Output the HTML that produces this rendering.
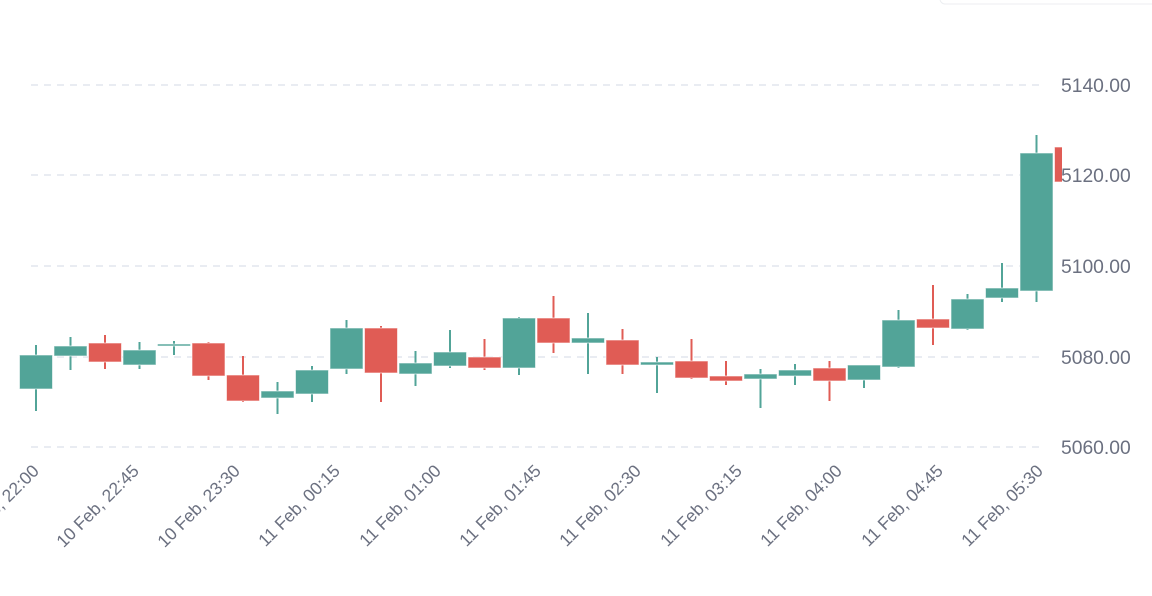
<!DOCTYPE html>
<html><head><meta charset="utf-8"><style>
html,body{margin:0;padding:0;background:#fff;}
svg{display:block;font-family:"Liberation Sans",sans-serif;}
</style></head><body>
<svg width="1152" height="596" viewBox="0 0 1152 596">
<rect x="940" y="-6" width="220" height="10" rx="5" fill="#fff" stroke="#eceef1"/>
<defs><clipPath id="cp"><rect x="0" y="0" width="1062" height="596"/></clipPath></defs>
<g stroke="#e2e6ee" stroke-width="1.5" stroke-dasharray="7,6">
<line x1="31" y1="85" x2="1043" y2="85"/>
<line x1="31" y1="175" x2="1043" y2="175"/>
<line x1="31" y1="266" x2="1043" y2="266"/>
<line x1="31" y1="357" x2="1043" y2="357"/>
<line x1="31" y1="447" x2="1043" y2="447"/>
</g>
<g fill="#6b7080" font-size="19.3">
<text x="1061" y="92">5140.00</text>
<text x="1061" y="182">5120.00</text>
<text x="1061" y="273">5100.00</text>
<text x="1061" y="364">5080.00</text>
<text x="1061" y="454">5060.00</text>
</g>
<g id="candles" clip-path="url(#cp)"></g>
<g fill="#6b7080" font-size="17.5" text-anchor="end">
<text transform="translate(40,472) rotate(-45)">10 Feb, 22:00</text>
<text transform="translate(140,472) rotate(-45)">10 Feb, 22:45</text>
<text transform="translate(241,472) rotate(-45)">10 Feb, 23:30</text>
<text transform="translate(341,472) rotate(-45)">11 Feb, 00:15</text>
<text transform="translate(442,472) rotate(-45)">11 Feb, 01:00</text>
<text transform="translate(542,472) rotate(-45)">11 Feb, 01:45</text>
<text transform="translate(642,472) rotate(-45)">11 Feb, 02:30</text>
<text transform="translate(743,472) rotate(-45)">11 Feb, 03:15</text>
<text transform="translate(843,472) rotate(-45)">11 Feb, 04:00</text>
<text transform="translate(944,472) rotate(-45)">11 Feb, 04:45</text>
<text transform="translate(1044,472) rotate(-45)">11 Feb, 05:30</text>
</g>
</svg>
<script>
var d=[
["G",355,389,345,411],["G",346,356,337,370],["R",343,362,335,369],["G",350,365,342,369],["G",344,346,341,355],
["R",343,376,342,380],["R",375,401,356,402],["G",391,398,382,414],["G",370,394,366,402],["G",328,369,320,374],
["R",328,373,326,402],["G",363,374,351,386],["G",352,366,330,368],["R",357,368,339,370],["G",318,368,317,375],
["R",318,343,296,353],["G",338,343,313,374],["R",340,365,329,374],["G",362,365,357,393],["R",361,378,339,379],
["R",376,381,361,385],["G",374,379,369,408],["G",370,376,364,385],["R",368,381,361,401],["G",365,380,365,388],
["G",320,367,310,368],["R",319,328,285,345],["G",299,329,294,330],["G",288,298,263,302],["G",153,291,135,302],
["R",147,182,147,182]];
var g=document.getElementById("candles"),s="";
d.forEach(function(c,i){var x=36+34.5*i,col=c[0]=="G"?"#52a498":"#e05c55";
s+='<line x1="'+x+'" y1="'+c[3]+'" x2="'+x+'" y2="'+c[4]+'" stroke="'+col+'" stroke-width="2"/>';
s+='<rect x="'+(x-16.5)+'" y="'+c[1]+'" width="33" height="'+Math.max(2,c[2]-c[1])+'" fill="'+col+'" stroke="rgba(255,255,255,0.6)" stroke-width="1"/>';});
g.innerHTML=s;
</script>
</body></html>
